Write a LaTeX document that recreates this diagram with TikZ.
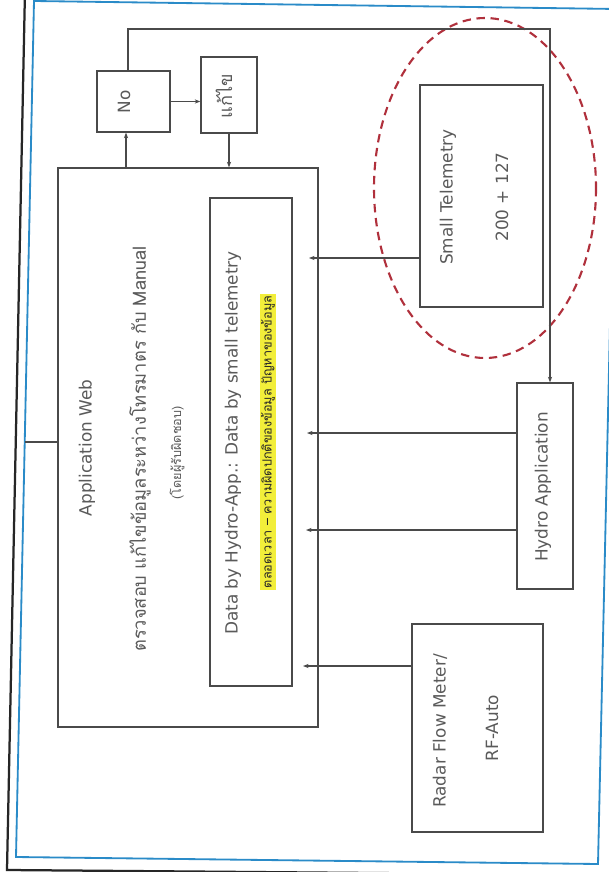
\documentclass[tikz,border=0pt]{standalone}
\usepackage{fontspec}
\setmainfont{DejaVu Sans}
\newfontfamily\thaifont[Script=Thai]{Loma}
\usetikzlibrary{fit,arrows.meta}

\definecolor{inkgray}{HTML}{4A4A4A}
\definecolor{textgray}{HTML}{5A5A5A}
\definecolor{scanblue}{HTML}{2A8BC8}
\definecolor{circred}{HTML}{B0303C}
\definecolor{markyellow}{HTML}{F2EE3A}

\begin{document}
\begin{tikzpicture}[x=0.025cm,y=-0.025cm,
    box/.style={draw=inkgray,line width=0.9pt,inner sep=0pt},
    lbl/.style={rotate=90,text=textgray,inner sep=1pt,font=\fontsize{12}{14}\selectfont},
    thlbl/.style={lbl,font=\thaifont\fontsize{#1}{#1}\selectfont},
    link/.style={draw=inkgray,line width=0.8pt},
    arr/.style={link,-{Stealth[length=4pt,width=3pt]}}]
  \fill[white] (0,0) rectangle (608,872);
  \useasboundingbox (0,0) rectangle (608,872);
  % scanned page frame
  \draw[black!85,line width=1.6pt] (25,-10) -- (7,870) -- (620,875);
  \draw[scanblue,line width=1.3pt] (34,1) -- (16,857) -- (598,864) -- (617,9) -- cycle;

  % boxes
  \node (web) [box,fit={(58,168) (318,727)}] {};
  \node (data) [box,fit={(210,198) (292,686)}] {};
  \node (no) [box,fit={(97,71) (170,132)}] {};
  \node (fix) [box,fit={(201,57) (257,133)}] {};
  \node (st) [box,fit={(420,85) (543,307)}] {};
  \node (hydro) [box,fit={(517,383) (573,589)}] {};
  \node (radar) [box,fit={(412,624) (543,832)}] {};

  % red mark round the telemetry
  \draw[circred,line width=1.5pt,dash pattern=on 6pt off 4pt] (485,188) ellipse [x radius=111, y radius=170];

  % texts
  \node (webtitle) [lbl] at (87,448) {Application Web};
  \node (webtask) [thlbl=13] at (140,449) {ตรวจสอบ แก้ไขข้อมูลระหว่างโทรมาตร กับ Manual};
  \node (webnote) [thlbl=9] at (177,453) {(โดยผู้รับผิดชอบ)};
  \node (datatxt) [lbl] at (233,443) {Data by Hydro-App.: Data by small telemetry};
  \node (datamark) [thlbl=9,fill=markyellow,text=black!85] at (268,442) {ตลอดเวลา – ความผิดปกติของข้อมูล ปัญหาของข้อมูล};
  \node (notxt) [lbl] at (124,102) {No};
  \node (fixtxt) [thlbl=13] at (224,96) {แก้ไข};
  \node (sttxt) [lbl] at (448,197) {Small Telemetry};
  \node (stnum) [lbl] at (502,197) {200 + 127};
  \node (hydrotxt) [lbl] at (543,487) {Hydro Application};
  \node (radartxt) [lbl] at (440,731) {Radar Flow Meter/};
  \node (rftxt) [lbl] at (492,728) {RF-Auto};

  % connectors
  \coordinate (edge) at (25,442);
  \coordinate (up) at (126,0);
  \coordinate (topleft) at (128,29);
  \coordinate (topright) at (550,29);
  \coordinate (tap1) at (309,258);
  \coordinate (tap2) at (307,433);
  \coordinate (tap3) at (306,530);
  \coordinate (tap4) at (303,666);
  \draw[link] (web.west |- edge) -- (edge);
  \draw[arr] (no.north -| topleft) -- (topleft) -- (topright) -- (hydro.north -| topright);
  \draw[arr] (web.north -| up) -- (no.south -| up);
  \draw[arr] (no.east) -- (fix.west |- no.east);
  \draw[arr] (fix.south) -- (web.north -| fix.south);
  \draw[arr] (st.west |- tap1) -- (tap1);
  \draw[arr] (hydro.west |- tap2) -- (tap2);
  \draw[arr] (hydro.west |- tap3) -- (tap3);
  \draw[arr] (radar.west |- tap4) -- (tap4);
\end{tikzpicture}
\end{document}
